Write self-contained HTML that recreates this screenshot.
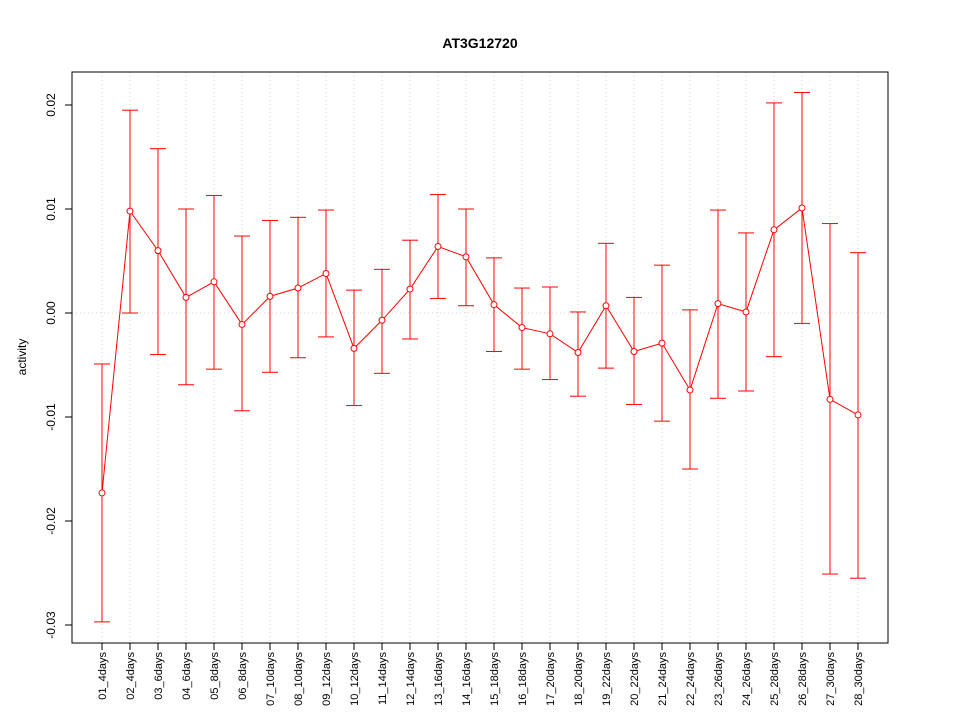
<!DOCTYPE html>
<html><head><meta charset="utf-8"><style>
html,body{margin:0;padding:0;background:#fff;}
svg{display:block;font-family:"Liberation Sans",sans-serif;}
</style></head><body>
<svg id="chart" width="960" height="720" xmlns="http://www.w3.org/2000/svg"></svg>
<script>
const categories=["01_4days","02_4days","03_6days","04_6days","05_8days","06_8days","07_10days","08_10days","09_12days","10_12days","11_14days","12_14days","13_16days","14_16days","15_18days","16_18days","17_20days","18_20days","19_22days","20_22days","21_24days","22_24days","23_26days","24_26days","25_28days","26_28days","27_30days","28_30days"];
const means=[-0.0173,0.0098,0.0060,0.0015,0.0030,-0.0011,0.0016,0.0024,0.0038,-0.0034,-0.0007,0.0023,0.0064,0.0054,0.0008,-0.0014,-0.0020,-0.0038,0.0007,-0.0037,-0.0029,-0.0074,0.0009,0.0001,0.0080,0.0101,-0.0083,-0.0098];
const uppers=[-0.0049,0.0195,0.0158,0.0100,0.0113,0.0074,0.0089,0.0092,0.0099,0.0022,0.0042,0.0070,0.0114,0.0100,0.0053,0.0024,0.0025,0.0001,0.0067,0.0015,0.0046,0.0003,0.0099,0.0077,0.0202,0.0212,0.0086,0.0058];
const lowers=[-0.0297,0.0000,-0.0040,-0.0069,-0.0054,-0.0094,-0.0057,-0.0043,-0.0023,-0.0089,-0.0058,-0.0025,0.0014,0.0007,-0.0037,-0.0054,-0.0064,-0.0080,-0.0053,-0.0088,-0.0104,-0.0150,-0.0082,-0.0075,-0.0042,-0.0010,-0.0251,-0.0255];
const yTicks=[0.02,0.01,0.00,-0.01,-0.02,-0.03];
const yTickLabels=["0.02","0.01","0.00","-0.01","-0.02","-0.03"];

const NS="http://www.w3.org/2000/svg";
const svg=document.getElementById('chart');
const L=72,R=888,T=72,B=643;
function xs(i){return 102+i*(858-102)/(categories.length-1);}
function ys(v){return 313-v*10400;}
function mk(tag,attrs,parent){const e=document.createElementNS(NS,tag);for(const k in attrs)e.setAttribute(k,attrs[k]);(parent||svg).appendChild(e);return e;}

const title=mk('text',{x:480,y:48,'text-anchor':'middle','font-size':14,'font-weight':'bold',fill:'#000'});
title.textContent='AT3G12720';



// grid
const grid=mk('g',{});


categories.forEach((c,i)=>{mk('line',{x1:xs(i),x2:xs(i),y1:T,y2:B,stroke:'#d3d3d3','stroke-dasharray':'1,3','stroke-width':1},grid);});
mk('line',{x1:L,x2:R,y1:ys(0),y2:ys(0),stroke:'#d3d3d3','stroke-dasharray':'1,3','stroke-width':1},grid);

// frame
const frame=mk('rect',{x:L,y:T,width:R-L,height:B-T,fill:'none',stroke:'#000','stroke-width':1});



// y axis
const yax=mk('g',{});


yTicks.forEach((v,i)=>{
  const y=ys(v);
  mk('line',{x1:L-7,x2:L,y1:y,y2:y,stroke:'#000'},yax);
  const t=mk('text',{x:55,y:y,'text-anchor':'middle','font-size':12,transform:`rotate(-90 55 ${y})`},yax);
  t.textContent=yTickLabels[i];
  
  
});
const yt=mk('text',{x:26,y:357,'text-anchor':'middle','font-size':12,transform:'rotate(-90 26 357)'});
yt.textContent='activity';



// x axis
const xax=mk('g',{});


categories.forEach((c,i)=>{
  const x=xs(i);
  mk('line',{x1:x,x2:x,y1:B,y2:B+7,stroke:'#000'},xax);
  const t=mk('text',{x:x+4,y:652,'text-anchor':'end','font-size':11,transform:`rotate(-90 ${x+4} 652)`},xax);
  t.textContent=c;
  
  
});

// series
const ser=mk('g',{});


categories.forEach((c,i)=>{
  const x=xs(i);
  const eb=mk('g',{stroke:'#ff0000','stroke-width':1},ser);
  
  
  mk('line',{x1:x,x2:x,y1:ys(uppers[i]),y2:ys(lowers[i])},eb);
  mk('line',{x1:x-8,x2:x+8,y1:ys(uppers[i]),y2:ys(uppers[i])},eb);
  mk('line',{x1:x-8,x2:x+8,y1:ys(lowers[i]),y2:ys(lowers[i])},eb);
});
const pts=means.map((v,i)=>xs(i)+','+ys(v)).join(' ');
const line=mk('polyline',{points:pts,fill:'none',stroke:'#ff0000','stroke-width':1},ser);


means.forEach((v,i)=>{
  const p=mk('circle',{cx:xs(i),cy:ys(v),r:3,fill:'#fff',stroke:'#ff0000','stroke-width':1},ser);
  
  
});
</script>
</body></html>
